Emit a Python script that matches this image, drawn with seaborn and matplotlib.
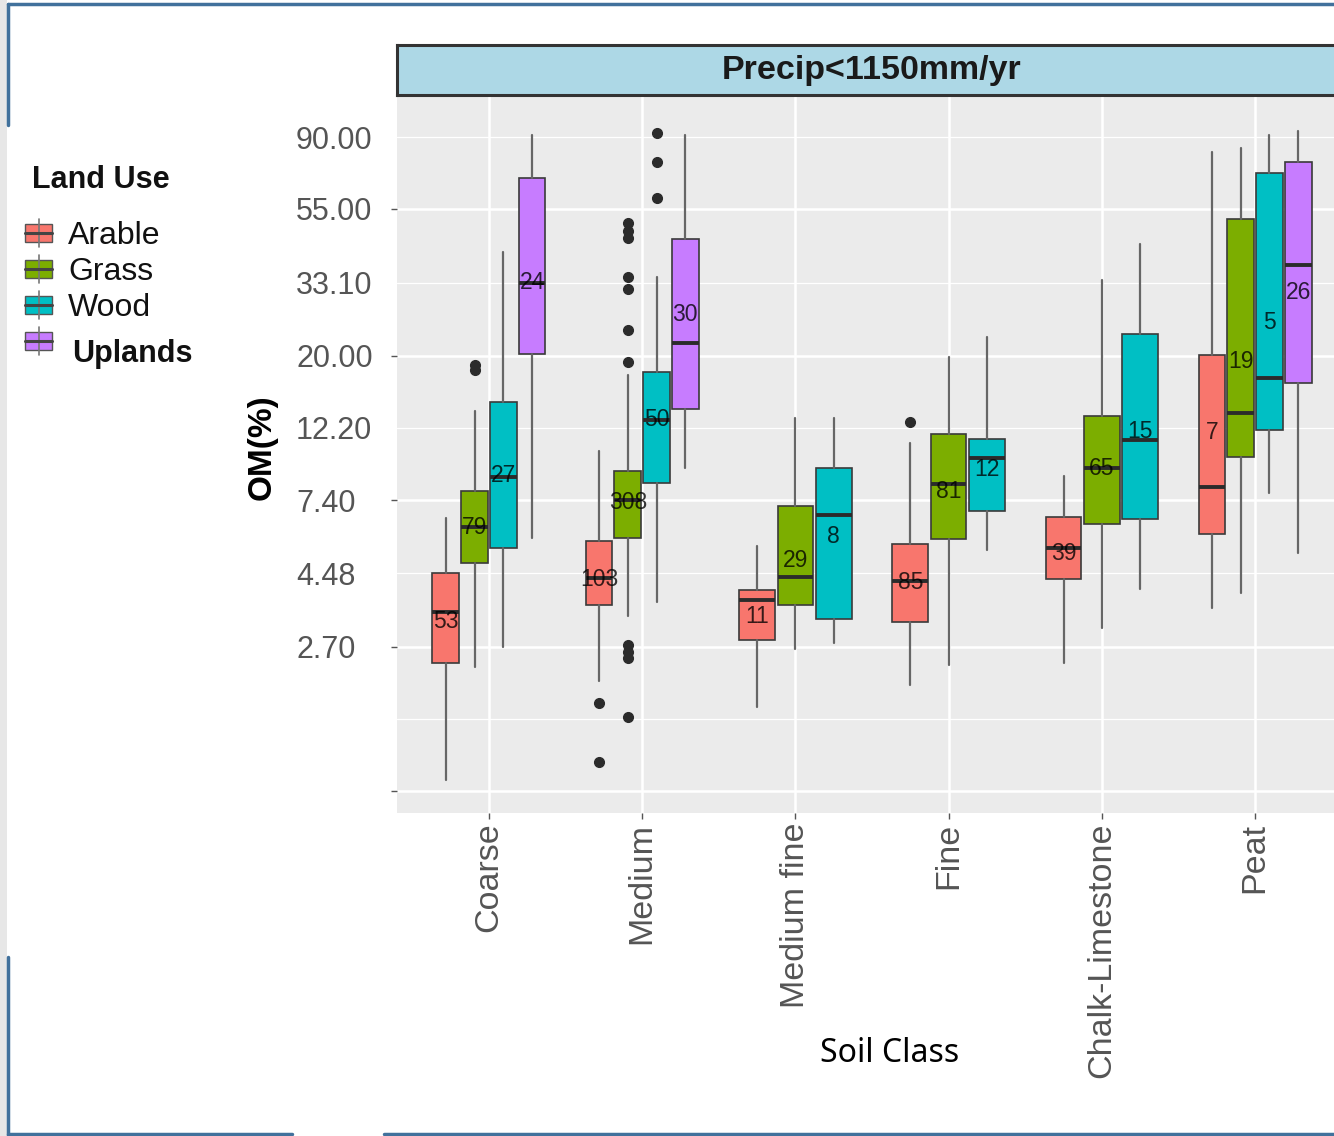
import numpy as np
import pandas as pd
import matplotlib
matplotlib.use("Agg")
import matplotlib.pyplot as plt
import seaborn as sns
from matplotlib.patches import Rectangle
from matplotlib.lines import Line2D
from matplotlib.ticker import FixedLocator, FixedFormatter


soil_classes = ["Coarse", "Medium", "Medium fine", "Fine", "Chalk-Limestone", "Peat"]
land_uses = ["Arable", "Grass", "Wood", "Uplands"]

# one entry per box (soil class x land use), values in OM(%)
box_soil = (["Coarse"] * 4 + ["Medium"] * 4 + ["Medium fine"] * 3 + ["Fine"] * 3
            + ["Chalk-Limestone"] * 3 + ["Peat"] * 4)
box_use = (land_uses + land_uses + land_uses[:3] + land_uses[:3]
           + land_uses[:3] + land_uses)
whisker_low = [1.08, 2.35, 2.70, 5.71, 2.14, 3.34, 3.68, 9.24, 1.79, 2.66, 2.78,
               2.08, 2.38, 5.26, 2.42, 3.08, 4.02, 3.53, 3.91, 7.78, 5.15]
quart_low = [2.42, 4.81, 5.33, 20.2, 3.60, 5.71, 8.34, 13.9, 2.83, 3.60, 3.27,
             3.21, 5.67, 6.88, 4.31, 6.29, 6.51, 5.87, 9.97, 12.0, 16.6]
medians = [3.43, 6.16, 8.69, 33.0, 4.34, 7.42, 12.9, 21.8, 3.73, 4.37, 6.69,
           4.25, 8.28, 9.90, 5.33, 9.24, 11.2, 8.11, 13.5, 17.2, 37.3]
quart_high = [4.49, 7.89, 14.6, 67.9, 5.60, 9.05, 17.9, 44.7, 3.99, 7.12, 9.24,
              5.48, 11.7, 11.3, 6.60, 13.2, 23.2, 20.1, 51.2, 70.2, 75.8]
whisker_high = [6.55, 13.7, 40.8, 91.3, 10.4, 17.5, 34.4, 91.3, 5.41, 13.0, 13.0,
                11.0, 19.8, 22.8, 8.75, 33.7, 43.1, 81.2, 83.4, 91.3, 93.8]
means = [3.21, 6.16, 8.75, 33.0, 4.28, 7.27, 12.9, 26.5, 3.32, 4.91, 5.79,
         4.22, 7.84, 9.18, 5.15, 9.24, 11.9, 11.8, 19.2, 25.1, 31.0]
counts = [53, 79, 27, 24, 103, 308, 50, 30, 11, 29, 8,
          85, 81, 12, 39, 65, 15, 7, 19, 5, 26]
outliers = [[], [18.8, 18.1], [], [],
            [1.84, 1.22],
            [49.8, 47.2, 45.0, 34.4, 31.7, 23.9, 19.2, 2.74, 2.61, 2.50, 1.67],
            [92.6, 75.8, 59.2], [],
            [], [], [],
            [12.7], [], [],
            [], [], [],
            [], [], [], []]

major_ticks = [1.0, 2.70, 7.40, 20.00, 55.00]
major_labels = ["", "2.70", "7.40", "20.00", "55.00"]
minor_ticks = [1.65, 4.48, 12.20, 33.10, 90.00]
minor_labels = ["", "4.48", "12.20", "33.10", "90.00"]

sns.set_theme(style="darkgrid", rc={"axes.facecolor": "#EBEBEB",
                                    "grid.color": "white"})
plt.rcParams["font.family"] = ["Liberation Sans", "DejaVu Sans"]
colors = dict(zip(land_uses, sns.color_palette(["#F8766D", "#7CAE00", "#00BFC4", "#C77CFF"])))

df = pd.DataFrame({"soil": box_soil, "use": box_use, "lo": whisker_low,
                   "q1": quart_low, "med": medians, "q3": quart_high,
                   "hi": whisker_high, "mean": means, "n": counts})
df["grp"] = df["soil"].map({s: i for i, s in enumerate(soil_classes)})
n_in = df.groupby("soil")["use"].transform("size")
slot = 0.75 / n_in
df["pos"] = df["grp"] - 0.375 + slot * (df.groupby("soil").cumcount() + 0.5)
df["width"] = slot * 0.93

W, H = 1334, 1136
fig = plt.figure(figsize=(W / 100, H / 100), dpi=100)
fig.patch.set_facecolor("white")

def fx(px):
    return px / W

def fy(py):
    return 1 - py / H

ax = fig.add_axes([fx(397), fy(813), fx(1347) - fx(397), fy(95) - fy(813)])

stats = []
for (_, r), fl in zip(df.iterrows(), outliers):
    stats.append(dict(whislo=r.lo, q1=r.q1, med=r.med, q3=r.q3, whishi=r.hi, fliers=fl))

bp = ax.bxp(stats, positions=df["pos"], widths=df["width"], patch_artist=True,
            showcaps=False, manage_ticks=False,
            boxprops=dict(edgecolor="#3a3a3a", linewidth=1.2),
            whiskerprops=dict(color="#666666", linewidth=1.6),
            medianprops=dict(color="#2b2b2b", linewidth=2.8),
            flierprops=dict(marker="o", markerfacecolor="#2b2b2b",
                            markeredgecolor="#2b2b2b", markersize=7))
for patch, use in zip(bp["boxes"], df["use"]):
    patch.set_facecolor(colors[use])

for _, r in df.iterrows():
    ax.text(r.pos, r["mean"], str(r.n), ha="center", va="center",
            fontsize=16.5, color="black", alpha=0.78, zorder=5)

ax.set_yscale("log")
ax.set_ylim(0.862, 120.2)
ax.set_xlim(-0.6, 5.6)
ax.yaxis.set_major_locator(FixedLocator(major_ticks))
ax.yaxis.set_major_formatter(FixedFormatter(major_labels))
ax.yaxis.set_minor_locator(FixedLocator(minor_ticks))
ax.yaxis.set_minor_formatter(FixedFormatter(minor_labels))
ax.set_xticks(range(len(soil_classes)))
ax.set_xticklabels(soil_classes, rotation=90)
ax.grid(True, which="major", color="white", linewidth=1.8)
ax.grid(True, which="minor", axis="y", color="white", linewidth=0.9)
ax.tick_params(axis="both", which="major", length=4, width=1, color="#555555",
               labelcolor="#555555", bottom=True, left=True)
# y labels are left aligned at the same x, as in the source picture
ax.tick_params(axis="y", which="minor", length=0, labelcolor="#555555",
               labelsize=22, pad=72.7)
ax.tick_params(axis="y", which="major", labelsize=22, pad=68.7)
for lab in ax.get_yticklabels(which="both"):
    lab.set_horizontalalignment("left")
ax.tick_params(axis="x", labelsize=24.5, pad=3)
for sp in ax.spines.values():
    sp.set_visible(False)

# facet strip
strip = fig.add_axes([fx(397), fy(95), fx(1347) - fx(397), fy(45) - fy(95)])
strip.set_facecolor("#ADD8E6")
strip.set_xticks([])
strip.set_yticks([])
strip.grid(False)
for sp in strip.spines.values():
    sp.set_visible(True)
    sp.set_color("#333333")
    sp.set_linewidth(2.2)
strip.text(0.5, 0.5, "Precip<1150mm/yr", ha="center", va="center",
           fontsize=24.5, fontweight="bold", color="#1a1a1a", transform=strip.transAxes)

fig.text(fx(262), fy(447), "OM(%)", rotation=90, ha="center", va="center",
         fontsize=24, fontweight="bold", color="black")
fig.text(fx(890), fy(1053), "Soil Class", ha="center", va="center",
         fontsize=23, color="black", family=["Noto Sans", "DejaVu Sans"])

# legend drawn by hand
fig.text(fx(32), fy(180), "Land Use", ha="left", va="center", fontsize=22,
         fontweight="bold", color="#111111")
for i, use in enumerate(land_uses):
    yc = 233 + 36 * i
    x0, x1, bh = 25, 52, 18
    fig.add_artist(Line2D([fx(38.5)] * 2, [fy(yc - bh / 2 - 5), fy(yc + bh / 2 + 5)],
                          color="#777777", lw=1.2))
    fig.add_artist(Rectangle((fx(x0), fy(yc + bh / 2)), fx(x1) - fx(x0),
                             fy(yc - bh / 2) - fy(yc + bh / 2),
                             facecolor=colors[use], edgecolor="#555555", lw=1.0))
    fig.add_artist(Line2D([fx(x0), fx(x1)], [fy(yc)] * 2, color="#444444", lw=2.2))
    if use == "Uplands":
        fig.text(fx(72), fy(yc + 13), use, ha="left", va="center", fontsize=22,
                 fontweight="bold", color="#111111")
    else:
        fig.text(fx(68), fy(yc + 3), use, ha="left", va="center", fontsize=23,
                 color="#111111")

# slide frame around the picture
fig.add_artist(Rectangle((0, 0), fx(7), 1, facecolor="#E7E7E7", edgecolor="none"))
frame = "#41719C"
fig.add_artist(Line2D([fx(8), 1], [fy(4)] * 2, color=frame, lw=2.5))
fig.add_artist(Line2D([fx(8)] * 2, [fy(4), fy(125)], color=frame, lw=2.5))
fig.add_artist(Line2D([fx(8)] * 2, [fy(957), fy(1135)], color=frame, lw=2.5))
fig.add_artist(Line2D([fx(8), fx(292)], [fy(1134)] * 2, color=frame, lw=2.5))
fig.add_artist(Line2D([fx(384), 1], [fy(1134)] * 2, color=frame, lw=2.5))

fig.savefig("out.png", dpi=100, facecolor="white")
